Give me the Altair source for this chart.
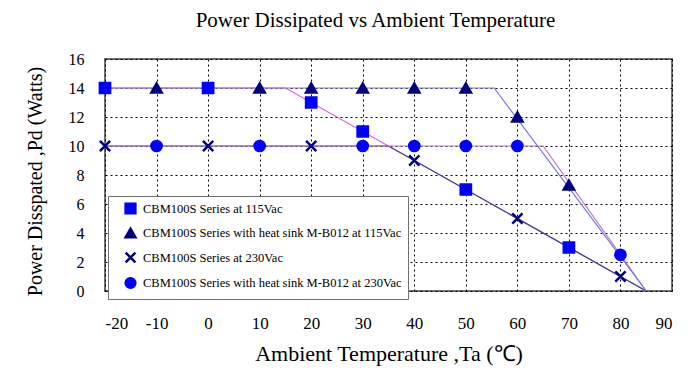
import altair as alt
import pandas as pd

SERIES = [
    "CBM100S Series at 115Vac",
    "CBM100S Series with heat sink M-B012 at 115Vac",
    "CBM100S Series at 230Vac",
    "CBM100S Series with heat sink M-B012 at 230Vac",
]

# marker positions
sq_x = [-20, 0, 20, 30, 50, 70]
sq_y = [14, 14, 13, 11, 7, 3]
tri_x = [-10, 10, 20, 30, 40, 50, 60, 70]
tri_y = [14, 14, 14, 14, 14, 14, 12, 7.3]
cross_x = [-20, 0, 20, 40, 60, 80]
cross_y = [10, 10, 10, 9, 5, 1]
circ_x = [-10, 10, 30, 40, 50, 60, 80]
circ_y = [10, 10, 10, 10, 10, 10, 2.5]

# derating curve break points
sq_lx, sq_ly = [-20, 15, 85], [14, 14, 0]
tri_lx, tri_ly = [-20, 55.5, 85], [14, 14, 0]
cross_lx, cross_ly = [-20, 35, 85], [10, 10, 0]
circ_lx, circ_ly = [-20, 65, 85], [10, 10, 0]

x_ticks = list(range(-20, 91, 10))
y_ticks = list(range(0, 17, 2))

FONT = "Liberation Serif"

pts = pd.concat([
    pd.DataFrame({"x": sq_x, "y": sq_y, "series": SERIES[0]}),
    pd.DataFrame({"x": tri_x, "y": tri_y, "series": SERIES[1]}),
    pd.DataFrame({"x": cross_x, "y": cross_y, "series": SERIES[2]}),
    pd.DataFrame({"x": circ_x, "y": circ_y, "series": SERIES[3]}),
], ignore_index=True)

xs = alt.Scale(domain=[-20, 90], nice=False, zero=False)
ys = alt.Scale(domain=[0, 16], nice=False)

xenc = alt.X("x:Q", scale=xs, axis=alt.Axis(
    values=x_ticks, title="Ambient Temperature ,Ta (\u2103)",
    labelExpr="'' + datum.value",
    grid=True, gridColor="black", gridDash=[2, 3], gridWidth=1,
    ticks=False, tickSize=0, domain=False,
    labelFont=FONT, labelFontSize=17, labelColor="black", labelPadding=24,
    titleFont=FONT, titleFontSize=22, titleFontWeight="normal", titleColor="black",
    titlePadding=12))
yenc = alt.Y("y:Q", scale=ys, axis=alt.Axis(
    values=y_ticks, title="Power Disspated ,Pd (Watts)",
    labelExpr="'' + datum.value",
    grid=True, gridColor="black", gridDash=[2, 3], gridWidth=1,
    ticks=False, tickSize=0, domain=False,
    labelFont=FONT, labelFontSize=16, labelColor="black", labelPadding=21,
    titleFont=FONT, titleFontSize=20, titleFontWeight="normal", titleColor="black",
    titleX=-70, titleY=122, titleBaseline="middle", titleAngle=-90, titleAlign="center"))


def line_layer(lx, ly, color):
    df = pd.DataFrame({"x": lx, "y": ly})
    return alt.Chart(df).mark_line(color=color, strokeWidth=1.2).encode(x=xenc, y=yenc)


lines = [
    line_layer(sq_lx, sq_ly, "#e060e0"),
    line_layer(cross_lx, cross_ly, "#404090"),
    line_layer(circ_lx, circ_ly, "#b878d0"),
    line_layer(tri_lx, tri_ly, "#7878dc"),
]

marker_colors = ["#0000ff", "#000080", "#000080", "#0000ff"]
shapes = ["square", "triangle-up", "M-1,-1L1,1M-1,1L1,-1", "circle"]

points = alt.Chart(pts).mark_point(size=105, strokeWidth=2.5, opacity=1, fillOpacity=1).encode(
    x=xenc, y=yenc,
    fill=alt.Fill("series:N", sort=SERIES, scale=alt.Scale(domain=SERIES, range=marker_colors), title=None),
    stroke=alt.Stroke("series:N", sort=SERIES, scale=alt.Scale(domain=SERIES, range=marker_colors), title=None),
    shape=alt.Shape("series:N", sort=SERIES, scale=alt.Scale(domain=SERIES, range=shapes), title=None),
)

chart = alt.layer(*lines, points).properties(
    width=567, height=232,
    title=alt.TitleParams("Power Dissipated vs Ambient Temperature", font=FONT, fontSize=21,
                          fontWeight="normal", color="black", offset=20, dx=-13),
    autosize=alt.AutoSizeParams(type="none"),
    padding={"left": 97, "top": 51, "right": 20, "bottom": 79},
).configure_view(
    stroke="#707070", strokeWidth=2
).configure_legend(
    orient="none", legendX=3, legendY=137,
    fillColor="white", strokeColor="#707070", padding=6,
    labelFont=FONT, labelFontSize=12.5, labelColor="black", labelLimit=400,
    symbolSize=95, symbolStrokeWidth=2.5, rowPadding=4.5, symbolOffset=10, labelOffset=6,
)

chart.save("out.html", embed_options={"renderer": "svg", "actions": False})
